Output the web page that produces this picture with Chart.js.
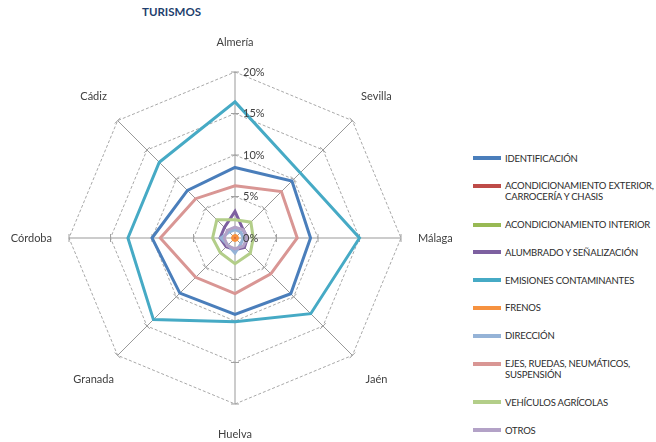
<!DOCTYPE html>
<html>
<head>
<meta charset="utf-8">
<script src="https://cdn.jsdelivr.net/npm/chart.js@4.4.1/dist/chart.umd.min.js"></script>
<style>
  html, body { margin: 0; padding: 0; background: #fff; }
  body { width: 656px; height: 442px; position: relative; overflow: hidden; font-family: Lato, "Open Sans", sans-serif; }
  #title { position: absolute; left: 142px; top: 5px; font-size: 11.5px; font-weight: bold; color: #1F3F6E; }
  #wrap { position: absolute; left: 0; top: 0; width: 460px; height: 442px; }
  #legend { position: absolute; left: 473px; top: 152.5px; width: 185px; }
  .item { position: relative; padding-left: 32px; font-size: 9.5px; line-height: 11px; letter-spacing: -0.2px; color: #2b2b2b; margin-bottom: 16.8px; white-space: nowrap; }
  .item .sw { position: absolute; left: 0; top: 3.5px; width: 28px; height: 4px; }
</style>
</head>
<body>
<div id="title">TURISMOS</div>
<div id="wrap"><canvas id="radar"></canvas></div>
<div id="legend"></div>
<script>
// ---------- datos (%) ----------
var provincias = ['Almería', 'Sevilla', 'Málaga', 'Jaén', 'Huelva', 'Granada', 'Córdoba', 'Cádiz'];

var identificacion = [8.5, 9.7, 9.1, 9.5, 9.2, 9.4, 10.0, 8.1];
var acondExterior  = [0.1, 0.1, 0.1, 0.1, 0.1, 0.1, 0.1, 0.1];
var acondInterior  = [0, 0, 0, 0, 0, 0, 0, 0];
var alumbrado      = [3.2, 1.4, 1.5, 1.6, 1.4, 1.5, 1.8, 1.8];
var emisiones      = [16.4, 11.1, 15.0, 12.9, 10.1, 13.9, 12.9, 12.9];
var frenos         = [0.3, 0.3, 0.3, 0.3, 0.3, 0.3, 0.3, 0.3];
var direccion      = [1.0, 1.0, 1.0, 1.0, 1.8, 1.2, 1.7, 1.0];
var ejes           = [6.3, 7.9, 7.5, 6.1, 6.7, 6.7, 9.0, 6.7];
var agricolas      = [2.2, 2.7, 2.2, 2.6, 3.1, 2.5, 2.7, 3.1];
var otros          = [1.3, 1.4, 1.5, 1.4, 1.3, 1.3, 1.3, 1.3];

var tickValues = [0, 5, 10, 15, 20];
var tickLabels = ['0%', '5%', '10%', '15%', '20%'];

var series = [
  { name: ['IDENTIFICACIÓN'], data: identificacion, color: '#4A7EBB' },
  { name: ['ACONDICIONAMIENTO EXTERIOR,', 'CARROCERÍA Y CHASIS'], data: acondExterior, color: '#BE4B48' },
  { name: ['ACONDICIONAMIENTO INTERIOR'], data: acondInterior, color: '#98B954' },
  { name: ['ALUMBRADO Y SEÑALIZACIÓN'], data: alumbrado, color: '#7D60A0' },
  { name: ['EMISIONES CONTAMINANTES'], data: emisiones, color: '#46AAC5' },
  { name: ['FRENOS'], data: frenos, color: '#F69240' },
  { name: ['DIRECCIÓN'], data: direccion, color: '#95B3D7' },
  { name: ['EJES, RUEDAS, NEUMÁTICOS,', 'SUSPENSIÓN'], data: ejes, color: '#D99694' },
  { name: ['VEHÍCULOS AGRÍCOLAS'], data: agricolas, color: '#B3CE89' },
  { name: ['OTROS'], data: otros, color: '#B3A2C7' }
];

// ---------- leyenda HTML ----------
var legendEl = document.getElementById('legend');
series.forEach(function (s) {
  var d = document.createElement('div');
  d.className = 'item';
  d.innerHTML = '<span class="sw" style="background:' + s.color + '"></span>' + s.name.join('<br>');
  legendEl.appendChild(d);
});

// ---------- extras: marcas, etiquetas de ejes y de ticks ----------
var radarExtras = {
  id: 'radarExtras',
  beforeDatasetsDraw: function (chart) {
    var r = chart.scales.r;
    var ctx = chart.ctx;
    ctx.save();
    ctx.strokeStyle = '#a0a0a0';
    ctx.lineWidth = 1;
    for (var i = 0; i < provincias.length; i++) {
      for (var k = 1; k < tickValues.length; k++) {
        var dist = r.getDistanceFromCenterForValue(tickValues[k]);
        var p = r.getPointPosition(i, dist);
        var nx = -Math.sin(p.angle), ny = Math.cos(p.angle);
        ctx.beginPath();
        ctx.moveTo(p.x - nx * 4, p.y - ny * 4);
        ctx.lineTo(p.x + nx * 4, p.y + ny * 4);
        ctx.stroke();
      }
    }
    // nombres de provincia
    ctx.fillStyle = '#404040';
    ctx.font = '11px Lato, "Open Sans", sans-serif';
    ctx.textBaseline = 'middle';
    for (var j = 0; j < provincias.length; j++) {
      var align = 'center', gap = 34;
      if (j === 0 || j === 4) gap = 30;
      if (j === 2) { align = 'left'; gap = 17; }
      if (j === 6) { align = 'right'; gap = 17; }
      var q = r.getPointPosition(j, r.drawingArea + gap);
      ctx.textAlign = align;
      ctx.fillText(provincias[j], q.x, q.y);
    }
    ctx.restore();
  },
  afterDatasetsDraw: function (chart) {
    var r = chart.scales.r;
    var ctx = chart.ctx;
    ctx.save();
    ctx.fillStyle = '#404040';
    ctx.font = '11px Lato, "Open Sans", sans-serif';
    ctx.textAlign = 'left';
    ctx.textBaseline = 'middle';
    tickValues.forEach(function (v, k) {
      var p = r.getPointPosition(0, r.getDistanceFromCenterForValue(v));
      ctx.fillText(tickLabels[k], p.x + 8, p.y);
    });
    ctx.restore();
  }
};

new Chart(document.getElementById('radar'), {
  type: 'radar',
  data: {
    labels: provincias,
    datasets: series.map(function (s, i) {
      return {
        label: s.name.join(' '),
        data: s.data,
        borderColor: s.color,
        backgroundColor: 'transparent',
        borderWidth: 3,
        pointRadius: 0,
        fill: false,
        order: series.length - i
      };
    })
  },
  options: {
    responsive: true,
    maintainAspectRatio: false,
    animation: false,
    layout: { padding: { left: 69, top: 72, right: 59, bottom: 38 } },
    plugins: { legend: { display: false }, tooltip: { enabled: false } },
    scales: {
      r: {
        min: 0,
        max: 20,
        ticks: { stepSize: 5, display: false },
        pointLabels: { display: false },
        angleLines: { color: '#999999', lineWidth: 1 },
        grid: { color: '#a8a8a8', lineWidth: 1 },
        border: { dash: [3, 2] }
      }
    }
  },
  plugins: [radarExtras]
});
</script>
</body>
</html>
